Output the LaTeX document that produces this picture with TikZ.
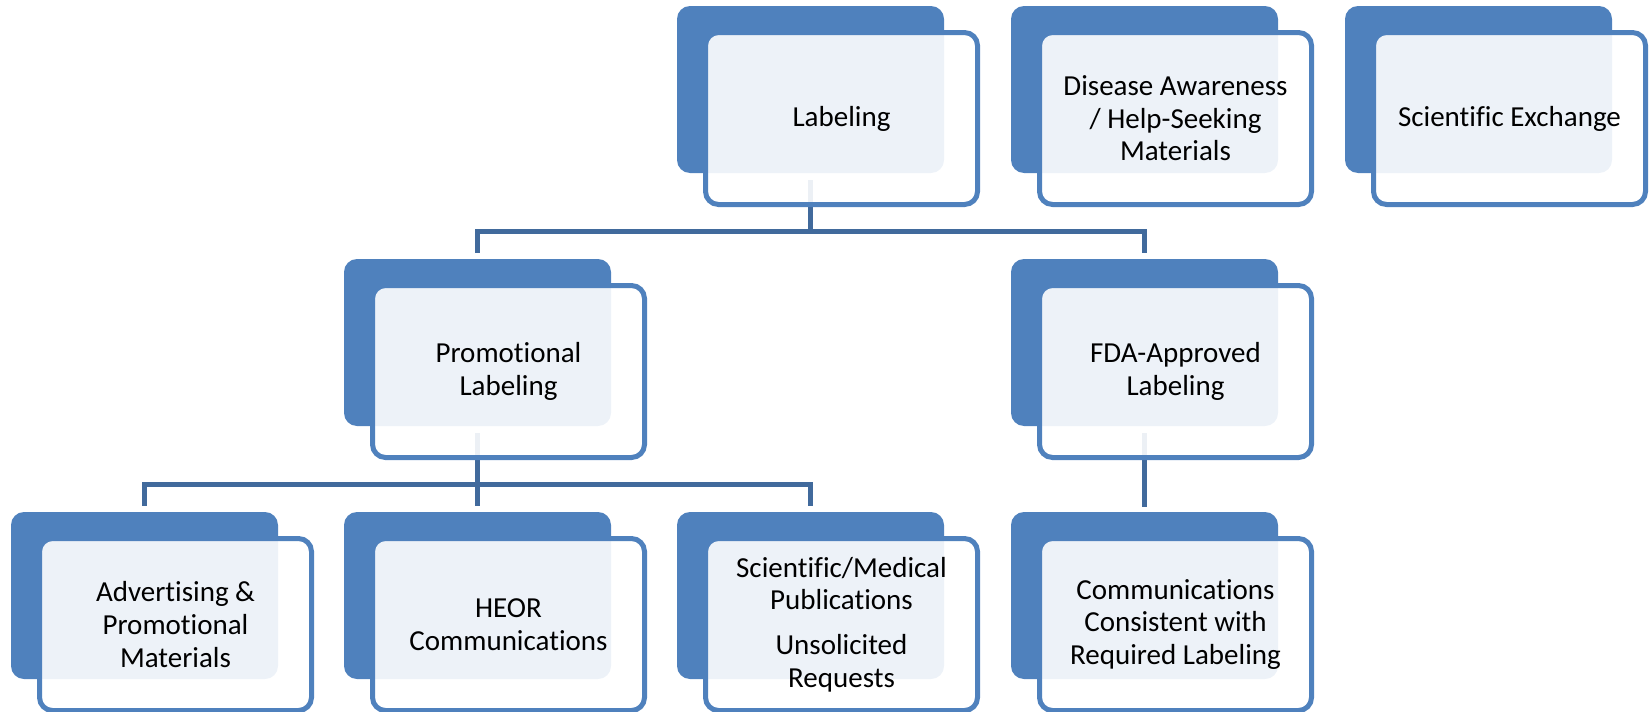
\documentclass[tikz,border=0pt]{standalone}
\usepackage{fontspec}
\setmainfont{Carlito}[Ligatures=NoCommon]
\usetikzlibrary{positioning}
\definecolor{accent}{RGB}{79,129,189}
\definecolor{linkblue}{RGB}{65,106,156}
\pgfdeclarelayer{background}
\pgfsetlayers{background,main}
\tikzset{
  backbox/.style={fill=accent, draw=none, rounded corners=6.5pt,
    minimum width=133.5pt, minimum height=83.5pt, inner sep=0pt},
  frontbox/.style={draw=accent, line width=2.5pt, fill=white, fill opacity=0.9,
    text opacity=1, rounded corners=6.5pt, minimum width=136pt, minimum height=86pt,
    inner sep=0pt, align=center, font=\fontsize{14.5pt}{16.3pt}\selectfont},
  conn/.style={draw=linkblue, line width=2.5pt},
}
\begin{document}
\begin{tikzpicture}[x=0.5pt, y=-0.5pt]
\useasboundingbox (0,0) rectangle (1651,712);

% back panels
\node[backbox] (lab-b)  at (810.5,89.5)  {};
\node[backbox] (dis-b)  at (1144.5,89.5) {};
\node[backbox] (sx-b)   at (1478.5,89.5) {};
\node[backbox] (pro-b)  at (477.5,342.5) {};
\node[backbox] (fda-b)  at (1144.5,342.5) {};
\node[backbox] (adv-b)  at (144.5,595.5) {};
\node[backbox] (heor-b) at (477.5,595.5) {};
\node[backbox] (sci-b)  at (810.5,595.5) {};
\node[backbox] (com-b)  at (1144.5,595.5) {};

% front cards with the text
\node[frontbox] (lab)  at (841.5,118.5)  {Labeling};
\node[frontbox] (dis)  at (1175.5,118.5) {Disease Awareness\\/ Help-Seeking\\Materials};
\node[frontbox] (sx)   at (1509.5,118.5) {Scientific Exchange};
\node[frontbox] (pro)  at (508.5,371.5)  {Promotional\\Labeling};
\node[frontbox] (fda)  at (1175.5,371.5) {FDA-Approved\\Labeling};
\node[frontbox] (adv)  at (175.5,624.5)  {Advertising \&\\Promotional\\Materials};
\node[frontbox] (heor) at (508.5,624.5)  {HEOR\\Communications};
\node[frontbox] (sci)  at (841.5,624.5)  {Scientific/Medical\\Publications\\[6pt]Unsolicited\\Requests};
\node[frontbox] (com)  at (1175.5,624.5) {Communications\\Consistent with\\Required Labeling};

% tree connectors, behind the panels
\coordinate (bar1) at (810.5,231);
\coordinate (bar2) at (477.5,484);
\begin{pgfonlayer}{background}
  \draw[conn] ([yshift=-3.5pt]lab-b.south) -- (bar1);
  \draw[conn] ([yshift=3pt]pro-b.north) |- (bar1) -| ([yshift=3pt]fda-b.north);
  \draw[conn] ([yshift=-3.5pt]pro-b.south) -- (bar2);
  \draw[conn] ([yshift=3pt]adv-b.north) |- (bar2) -| ([yshift=3pt]sci-b.north);
  \draw[conn] (bar2) -- ([yshift=3pt]heor-b.north);
  \draw[conn] ([yshift=-3.5pt]fda-b.south) -- ([yshift=2.5pt]com-b.north);
\end{pgfonlayer}
\end{tikzpicture}
\end{document}
